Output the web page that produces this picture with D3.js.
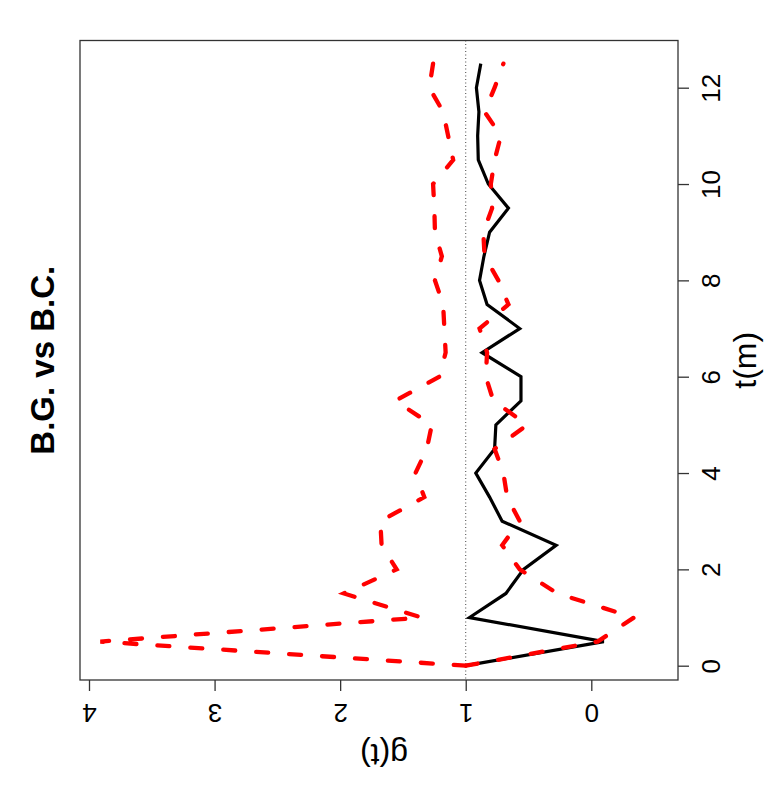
<!DOCTYPE html>
<html>
<head>
<meta charset="utf-8">
<script src="https://cdn.jsdelivr.net/npm/d3@7"></script>
<style>
  body { margin: 0; background: #fff; }
  text { font-family: "Liberation Sans", Arial, Helvetica, sans-serif; fill: #000; }
</style>
</head>
<body>
<div id="graph"></div>
<script>
// t in months, sampled every half month
const tVals = [0, 0.5, 1, 1.5, 2, 2.5, 3, 3.5, 4, 4.5, 5, 5.5, 6, 6.5, 7, 7.5, 8, 8.5, 9, 9.5, 10, 10.5, 11, 11.5, 12, 12.5];
// observed g(t), B.G. vs B.C.
const gObs = [1.0, -0.1, 0.97, 0.68, 0.54, 0.28, 0.71, 0.81, 0.92, 0.77, 0.76, 0.56, 0.56, 0.87, 0.57, 0.83, 0.89, 0.855, 0.81, 0.66, 0.82, 0.90, 0.905, 0.895, 0.915, 0.88];
// envelope (red dashed)
const gUpper = [1.0, 3.91, 1.35, 1.97, 1.55, 1.67, 1.68, 1.33, 1.40, 1.31, 1.27, 1.56, 1.21, 1.16, 1.17, 1.18, 1.245, 1.19, 1.245, 1.25, 1.26, 1.10, 1.14, 1.18, 1.29, 1.26];
const gLower = [1.0, -0.05, -0.34, 0.27, 0.57, 0.71, 0.57, 0.67, 0.70, 0.77, 0.51, 0.78, 0.84, 0.83, 0.89, 0.66, 0.74, 0.85, 0.86, 0.79, 0.80, 0.77, 0.72, 0.85, 0.77, 0.70];

const tTicks = [0, 2, 4, 6, 8, 10, 12];
const gTicks = [0, 1, 2, 3, 4];

(function() {
    const width = 777, height = 800;
    // plot box (page coords) - the R plot is turned a quarter turn
    const box = {left: 80, right: 678, top: 40.5, bottom: 680};

    // t runs up the page, g runs right-to-left
    const tScale = d3.scaleLinear().domain([0, 12]).range([665.7, 87.7]);
    const gScale = d3.scaleLinear().domain([0, 4]).range([591.3, 89]);

    const svg = d3.select("#graph").append("svg")
      .attr("width", width)
      .attr("height", height);

    // reference line g = 1
    svg.append("line")
      .attr("x1", gScale(1)).attr("x2", gScale(1))
      .attr("y1", box.top).attr("y2", box.bottom)
      .attr("stroke", "#444")
      .attr("stroke-width", 1)
      .attr("stroke-dasharray", "1,2.5");

    const line = (vals) => d3.line()
      .x((d, i) => gScale(vals[i]))
      .y((d) => tScale(d))(tVals);

    svg.append("path")
      .attr("d", line(gObs))
      .attr("fill", "none")
      .attr("stroke", "#000")
      .attr("stroke-width", 3.2)
      .attr("stroke-linejoin", "miter");

    [gUpper, gLower].forEach((vals) => {
        svg.append("path")
          .attr("d", line(vals))
          .attr("fill", "none")
          .attr("stroke", "#ff0000")
          .attr("stroke-width", 4.3)
          .attr("stroke-linecap", "round")
          .attr("stroke-dasharray", "12,21");
    });

    // box
    svg.append("rect")
      .attr("x", box.left).attr("y", box.top)
      .attr("width", box.right - box.left)
      .attr("height", box.bottom - box.top)
      .attr("fill", "none")
      .attr("stroke", "#333")
      .attr("stroke-width", 1.3);

    // t axis on the right
    const tAxis = svg.append("g")
      .attr("transform", `translate(${box.right},0)`)
      .call(d3.axisRight(tScale).tickValues(tTicks).tickSize(11).tickFormat(d3.format("d")));
    tAxis.select(".domain").remove();
    tAxis.selectAll(".tick line").attr("stroke", "#333").attr("stroke-width", 1.3);
    tAxis.selectAll(".tick text")
      .attr("x", null).attr("y", null)
      .attr("dy", "0.35em")
      .attr("transform", "translate(33,0) rotate(-90)")
      .attr("text-anchor", "middle")
      .style("font-size", "26px")
      .style("fill", "#000");

    // g axis at the bottom (upside down)
    const gAxis = svg.append("g")
      .attr("transform", `translate(0,${box.bottom})`)
      .call(d3.axisBottom(gScale).tickValues(gTicks).tickSize(11).tickFormat(d3.format("d")));
    gAxis.select(".domain").remove();
    gAxis.selectAll(".tick line").attr("stroke", "#333").attr("stroke-width", 1.3);
    gAxis.selectAll(".tick text")
      .attr("x", null).attr("y", null)
      .attr("dy", "0.35em")
      .attr("transform", "translate(0,33) rotate(180)")
      .attr("text-anchor", "middle")
      .style("font-size", "26px")
      .style("fill", "#000");

    // labels
    svg.append("text")
      .attr("transform", `translate(745,${(box.top + box.bottom) / 2}) rotate(-90)`)
      .attr("dy", "0.35em")
      .attr("text-anchor", "middle")
      .style("font-size", "32px")
      .text("t(m)");

    svg.append("text")
      .attr("transform", `translate(${(box.left + box.right) / 2 + 5},755) rotate(180)`)
      .attr("dy", "0.35em")
      .attr("text-anchor", "middle")
      .style("font-size", "32px")
      .text("g(t)");

    svg.append("text")
      .attr("transform", `translate(42.5,${(box.top + box.bottom) / 2}) rotate(-90)`)
      .attr("dy", "0.36em")
      .attr("text-anchor", "middle")
      .style("font-size", "33px")
      .style("font-weight", "bold")
      .text("B.G. vs B.C.");
})()
</script>
</body>
</html>
